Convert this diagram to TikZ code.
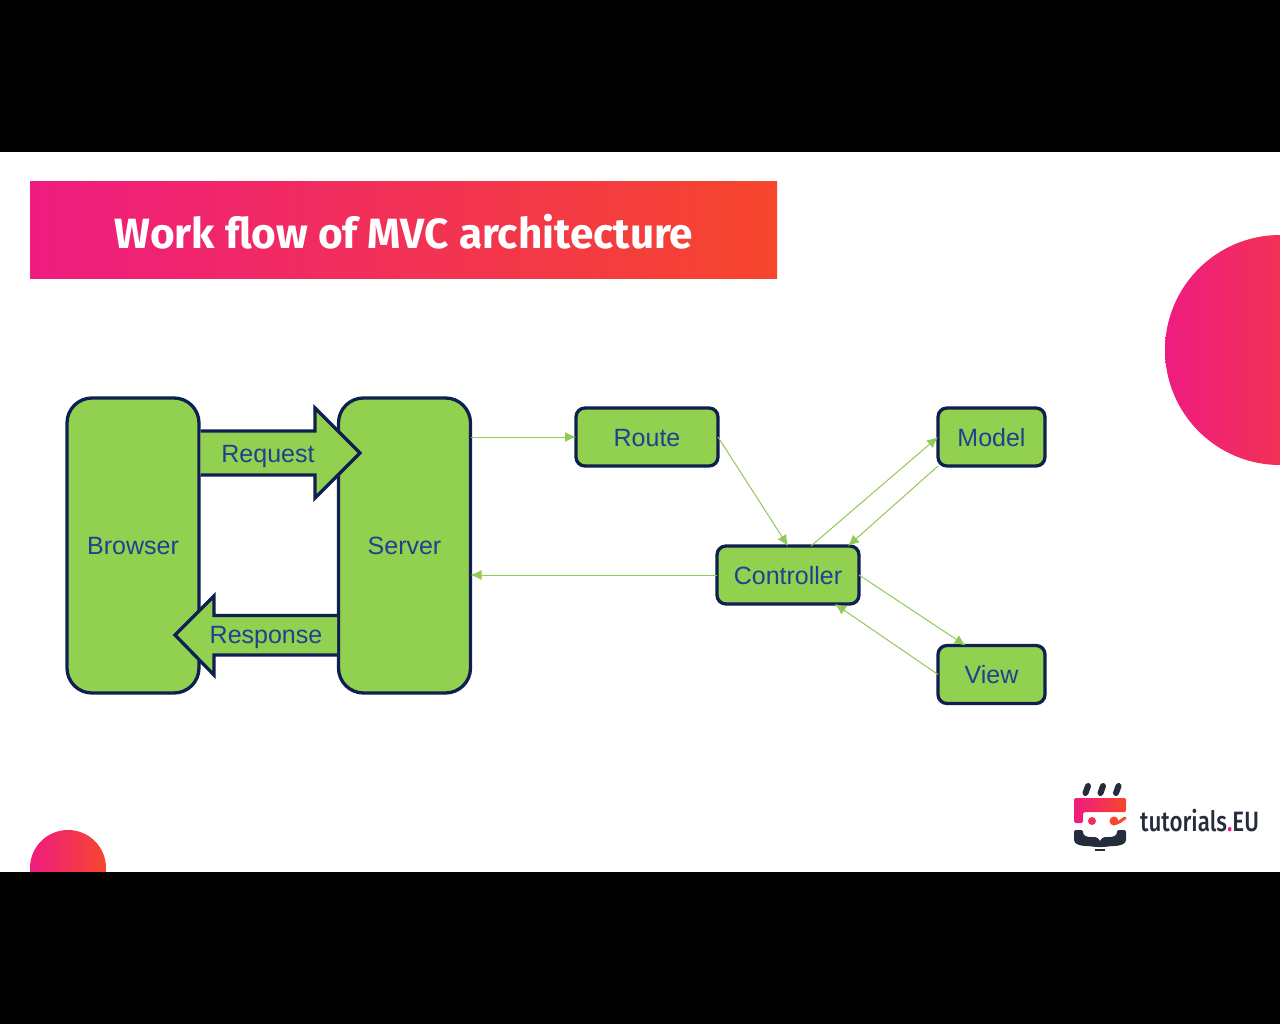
\documentclass[tikz,border=0pt]{standalone}
\usepackage{fontspec}
\setmainfont{Liberation Sans}
\newfontfamily\titlefont{Fira Sans}[UprightFont=* Bold]
\newfontfamily\logofont{Fira Sans}[UprightFont=* Medium]
\usetikzlibrary{arrows.meta}
\definecolor{boxgreen}{HTML}{92D050}
\definecolor{boxnavy}{HTML}{0E2050}
\definecolor{boxtext}{HTML}{22408F}
\definecolor{bandpink}{HTML}{EE1C80}
\definecolor{bandred}{HTML}{F6462C}
\definecolor{logodark}{HTML}{252C3B}

\begin{document}
\begin{tikzpicture}[x=1pt,y=-1pt]
\tikzset{box/.style={draw=boxnavy,fill=boxgreen,line width=3.3pt,rounded corners=9pt,text=boxtext,font=\fontsize{25}{25}\selectfont,text height=18pt,text depth=0pt,inner sep=0pt,outer sep=0pt,anchor=center}}
\tikzset{tallbox/.style={box,rounded corners=25pt,minimum width=132pt,minimum height=295pt}}
\tikzset{wirebox/.style={box,minimum width=#1,minimum height=58pt}}
\tikzset{blockarrow/.style={draw=boxnavy,fill=boxgreen,line width=3.3pt,miter limit=10}}
\tikzset{arrowlabel/.style={text=boxtext,font=\fontsize{25}{25}\selectfont,text height=18pt,text depth=0pt,inner sep=0pt}}
\tikzset{wire/.style={draw=boxgreen!92!gray,line width=1pt,-{Latex[length=11pt,width=10pt]}}}

\useasboundingbox (0,0) rectangle (1280,1024);
\fill[white] (0,0) rectangle (1280,1024);

\shade[left color=bandpink,right color=bandred] (30,181.5) rectangle (777,279);
\node[text=white,font=\titlefont\fontsize{42.3}{42.3}\selectfont,inner sep=0pt] (title) at (404,232) {Work flow of MVC architecture};

\begin{scope}
\clip (1100,200) rectangle (1280,500);
\shade[left color=bandpink,right color=bandred] (1280,350) circle (115);
\end{scope}
\shade[left color=bandpink,right color=bandred] (68,868) circle (38);

\node[tallbox] (browser) at (133,545.5) {Browser};
\node[tallbox] (server) at (404.5,545.5) {Server};
\node[wirebox=142pt] (route) at (647,437) {Route};
\node[wirebox=107pt] (model) at (991.5,437) {Model};
\node[wirebox=142pt] (controller) at (788,575) {Controller};
\node[wirebox=107pt] (view) at (991.5,674.5) {View};

\draw[blockarrow] (200.5,431) -- (315,431) -- (315,408) -- (360,453) -- (315,498) -- (315,475) -- (200.5,475);
\node[arrowlabel] (request) at (268,453) {Request};
\draw[blockarrow] (337,615.5) -- (214,615.5) -- (214,596) -- (175,635) -- (214,675) -- (214,655) -- (337,655);
\node[arrowlabel] (response) at (266,634.5) {Response};

\draw[wire] (server.east |- route) -- (route.west);
\draw[wire] (route.east) -- (controller.north);
\draw[wire] ([xshift=23pt]controller.north) -- (model.west);
\draw[wire] (model.south west) -- ([xshift=60pt]controller.north);
\draw[wire] (controller.west) -- (server.east |- controller);
\draw[wire] (controller.east) -- ([xshift=-26pt]view.north);
\draw[wire] (view.west) -- ([xshift=47pt]controller.south);

% logo
\draw[logodark,line width=6pt,line cap=round] (1085.5,793) -- (1088,786) (1100.5,793) -- (1103,786) (1116,793) -- (1118.5,786);
\shade[left color=bandpink,right color=bandred,rounded corners=1.5pt] (1074,798) -- (1126,798) -- (1126,812) -- (1083,812) -- (1083,823) -- (1074,823) -- cycle;
\fill[bandpink!55!bandred] (1092,821) circle (4);
\fill[bandred] (1114,821) circle (4.5);
\draw[bandred,line width=3pt,line cap=round] (1114,823) .. controls (1119,824) and (1121,820) .. (1125,818);
\fill[logodark,rounded corners=2pt] (1074,830) -- (1083,830) .. controls (1083,836) and (1087,837) .. (1093,837) .. controls (1097,837) and (1099,839) .. (1100,842) .. controls (1101,839) and (1103,837) .. (1107,837) .. controls (1113,837) and (1117,836) .. (1117,830) -- (1126,830) -- (1126,838) .. controls (1126,844) and (1120,846) .. (1112,846) -- (1104,847) -- (1096,847) -- (1088,846) .. controls (1080,846) and (1074,844) .. (1074,838) -- cycle;
\draw[logodark,line width=2pt] (1095,849.5) -- (1105,849.5);
\node[anchor=base west,inner sep=0pt,xscale=.8,text=logodark,font=\logofont\fontsize{28}{28}\selectfont] (logotext) at (1140,831) {tutorials\textcolor{bandpink}{.}EU};

\fill[black] (0,0) rectangle (1280,152);
\fill[black] (0,872) rectangle (1280,1024);
\end{tikzpicture}
\end{document}
